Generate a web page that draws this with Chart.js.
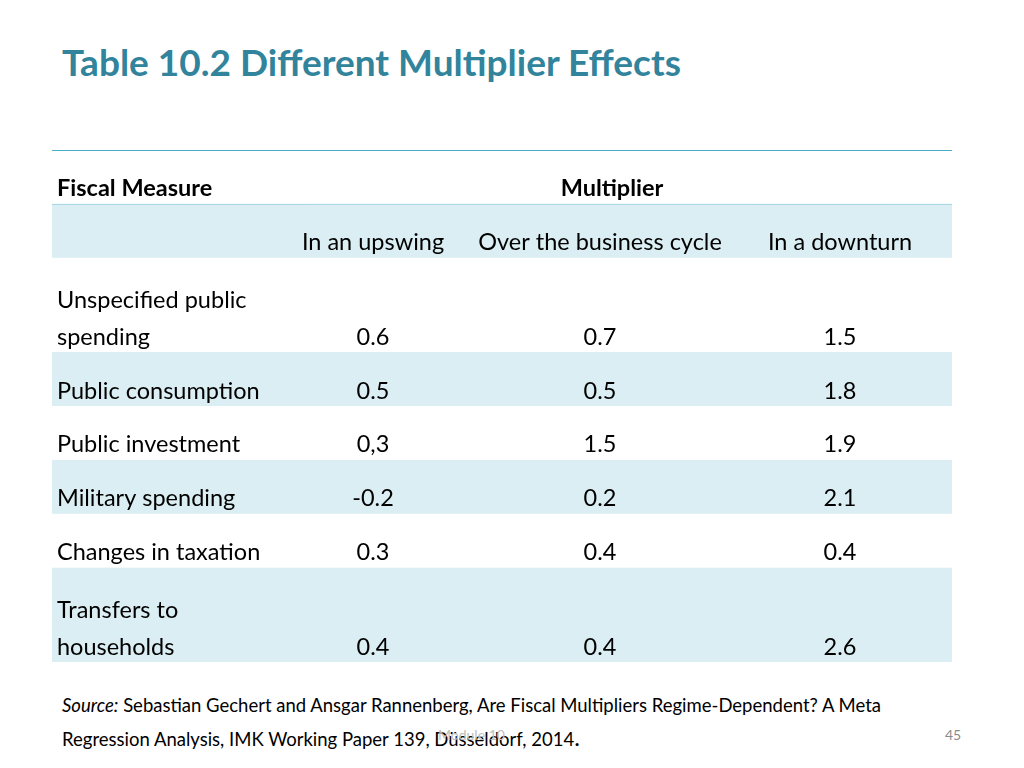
<!DOCTYPE html>
<html><head><meta charset="utf-8">
<script src="https://cdn.jsdelivr.net/npm/chart.js@4"></script>
<style>
body{margin:0;width:1024px;height:768px;background:#fff;font-family:Lato,"Open Sans",sans-serif;position:relative;overflow:hidden}
h1{position:absolute;left:62px;top:39px;margin:0;font-size:37px;color:#31849B;font-weight:bold}
#wrap{position:absolute;left:52px;top:150px;width:900px;height:512px}
.src{position:absolute;left:62px;top:689px;font-size:18.5px;line-height:32px;color:#000}
.pg{position:absolute;left:945px;top:726px;font-size:14px;color:#8c8c8c}
.mod{position:absolute;left:438px;top:726px;font-size:14px;color:#c0c0c0}
</style></head><body>
<h1>Table 10.2 Different Multiplier Effects</h1>
<div id="wrap"><canvas id="c"></canvas></div>
<div class="src"><i>Source:</i> Sebastian Gechert and Ansgar Rannenberg, Are Fiscal Multipliers Regime-Dependent? A Meta<br>Regression Analysis, IMK Working Paper 139, Düsseldorf, 2014<span style="font-size:24px">.</span></div>
<div class="mod">Module 10</div>
<div class="pg">45</div>
<script>
const columns = ['In an upswing', 'Over the business cycle', 'In a downturn'];
const measures = [['Unspecified public', 'spending'], ['Public consumption'], ['Public investment'], ['Military spending'], ['Changes in taxation'], ['Transfers to', 'households']];
const upswing = ['0.6', '0.5', '0,3', '-0.2', '0.3', '0.4'];
const cycle = ['0.7', '0.5', '1.5', '0.2', '0.4', '0.4'];
const downturn = ['1.5', '1.8', '1.9', '2.1', '0.4', '2.6'];
const rowSpans = [1, 1, 1.75, 1, 1, 1, 1, 1.75];
const colX = [5, 321, 548, 788];

const total = rowSpans.reduce((a, b) => a + b, 0);
const bounds = [0];
rowSpans.forEach(s => bounds.push(bounds[bounds.length - 1] + s));

const tablePlugin = {
  id: 'table',
  afterDraw(chart) {
    const { ctx, scales: { x, y } } = chart;
    const L = x.getPixelForValue(0), R = x.getPixelForValue(900);
    const top = i => y.getPixelForValue(bounds[i]);
    ctx.save();
    rowSpans.forEach((s, i) => {
      if (i === 1 || (i >= 2 && i % 2 === 1)) {
        ctx.fillStyle = '#DBEEF3';
        ctx.fillRect(L, top(i), R - L, top(i + 1) - top(i));
      }
    });
    ctx.strokeStyle = '#4BACC6'; ctx.lineWidth = 1;
    [0, 8].forEach(i => { ctx.beginPath(); ctx.moveTo(L, top(i) + 0.5); ctx.lineTo(R, top(i) + 0.5); ctx.stroke(); });
    ctx.strokeStyle = '#A5D5E2';
    ctx.beginPath(); ctx.moveTo(L, top(1) + 0.5); ctx.lineTo(R, top(1) + 0.5); ctx.stroke();
    ctx.fillStyle = '#000'; ctx.textBaseline = 'middle';
    const cx = i => x.getPixelForValue(colX[i]);
    ctx.font = 'bold 23.5px Lato';
    ctx.textAlign = 'left'; ctx.fillText('Fiscal Measure', cx(0), top(1) - 15);
    ctx.textAlign = 'center'; ctx.fillText('Multiplier', x.getPixelForValue(560), top(1) - 15);
    ctx.font = '23.5px Lato';
    columns.forEach((c, j) => ctx.fillText(c, cx(j + 1), top(2) - 15));
    measures.forEach((m, r) => {
      const b = top(r + 3) - 15;
      ctx.textAlign = 'left';
      m.forEach((line, k) => ctx.fillText(line, cx(0), b - (m.length - 1 - k) * 37));
      ctx.textAlign = 'center';
      [upswing, cycle, downturn].forEach((arr, j) => ctx.fillText(arr[r], cx(j + 1), b));
    });
    ctx.restore();
  }
};

new Chart(document.getElementById('c'), {
  type: 'scatter',
  data: { datasets: [{ data: [] }] },
  options: {
    responsive: true, maintainAspectRatio: false, animation: false,
    layout: { padding: 0 },
    plugins: { legend: { display: false }, tooltip: { enabled: false } },
    scales: {
      x: { type: 'linear', min: 0, max: 900, display: false },
      y: { type: 'linear', min: 0, max: total, reverse: true, display: false }
    }
  },
  plugins: [tablePlugin]
});
</script>
</body></html>
